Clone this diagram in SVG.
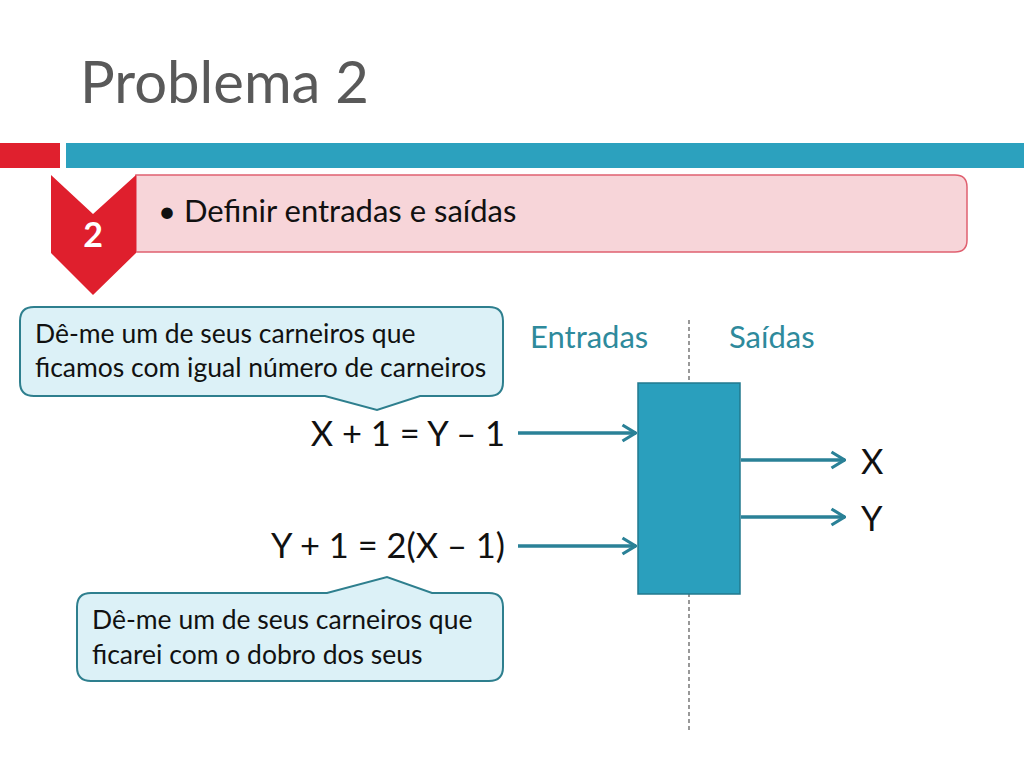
<svg xmlns="http://www.w3.org/2000/svg" width="1024" height="768" viewBox="0 0 1024 768">
<style>
text{font-family:Lato,"Open Sans","Liberation Sans",sans-serif}
.title{font-size:58px;fill:#595959}
.body{font-size:31px;fill:#111}
.call{font-size:26.5px;fill:#111}
.eq{font-size:34.5px;fill:#111}
.hdr{font-size:31px;fill:#2E8A9C}
.callout{fill:#DCF1F7;stroke:#2E7F8E;stroke-width:2}
.conn{stroke:#2A8197;stroke-width:3.5;fill:none}
</style>
<defs>
<marker id="arr" viewBox="0 0 16 20" refX="15" refY="10" markerWidth="16" markerHeight="20" markerUnits="userSpaceOnUse" orient="auto">
<path d="M1.5,2 L14.5,10 L1.5,18" fill="none" stroke="#2A8197" stroke-width="3.2"/>
</marker>
</defs>
<rect width="1024" height="768" fill="#fff"/>
<text class="title" x="80" y="103">Problema 2</text>
<rect x="0" y="143" width="60" height="25" fill="#E0202E"/>
<rect x="66" y="143" width="958" height="25" fill="#2CA1BE"/>
<g id="step">
<path d="M136,175 H955 Q967,175 967,187 V240 Q967,252 955,252 H136 Z" fill="#F7D5D9" stroke="#E06070" stroke-width="1.5"/>
<text class="body" x="158" y="222">• Definir entradas e saídas</text>
<path d="M51,175 L93,214 L136,175 L136,253 L93,295 L51,253 Z" fill="#DF1F2D"/>
<text x="93" y="247" text-anchor="middle" font-size="34" font-weight="bold" fill="#fff">2</text>
</g>
<g id="callout1">
<path class="callout" d="M34,307 H489 Q503,307 503,321 V382 Q503,396 489,396 H420 L377,410 L325,396 H34 Q20,396 20,382 V321 Q20,307 34,307 Z"/>
<text class="call" x="35" y="343">Dê-me um de seus carneiros que</text>
<text class="call" x="35" y="377">ficamos com igual número de carneiros</text>
</g>
<g id="callout2">
<path class="callout" d="M91,593 H327 L387,577 L432,593 H489 Q503,593 503,607 V667 Q503,681 489,681 H91 Q77,681 77,667 V607 Q77,593 91,593 Z"/>
<text class="call" x="92" y="629">Dê-me um de seus carneiros que</text>
<text class="call" x="92" y="664">ficarei com o dobro dos seus</text>
</g>
<g id="eq1"><text class="eq" x="505" y="446" text-anchor="end">X + 1 = Y – 1</text></g>
<g id="eq2"><text class="eq" x="505" y="558" text-anchor="end">Y + 1 = 2(X – 1)</text></g>
<g id="headers">
<text class="hdr" x="530" y="348">Entradas</text>
<text class="hdr" x="729" y="348">Saídas</text>
</g>
<line x1="689" y1="320" x2="689" y2="732" stroke="#555" stroke-width="1.2" stroke-dasharray="4,3"/>
<g id="box"><rect x="638" y="383" width="102" height="211" fill="#2A9FBD" stroke="#22798E" stroke-width="1.5"/></g>
<g id="outX"><text class="eq" x="861" y="474">X</text></g>
<g id="outY"><text class="eq" x="861" y="531">Y</text></g>
<g id="connectors">
<line class="conn" x1="518" y1="433" x2="636" y2="433" marker-end="url(#arr)"/>
<line class="conn" x1="518" y1="546" x2="636" y2="546" marker-end="url(#arr)"/>
<line class="conn" x1="741" y1="460" x2="845" y2="460" marker-end="url(#arr)"/>
<line class="conn" x1="741" y1="517" x2="845" y2="517" marker-end="url(#arr)"/>
</g>
</svg>
